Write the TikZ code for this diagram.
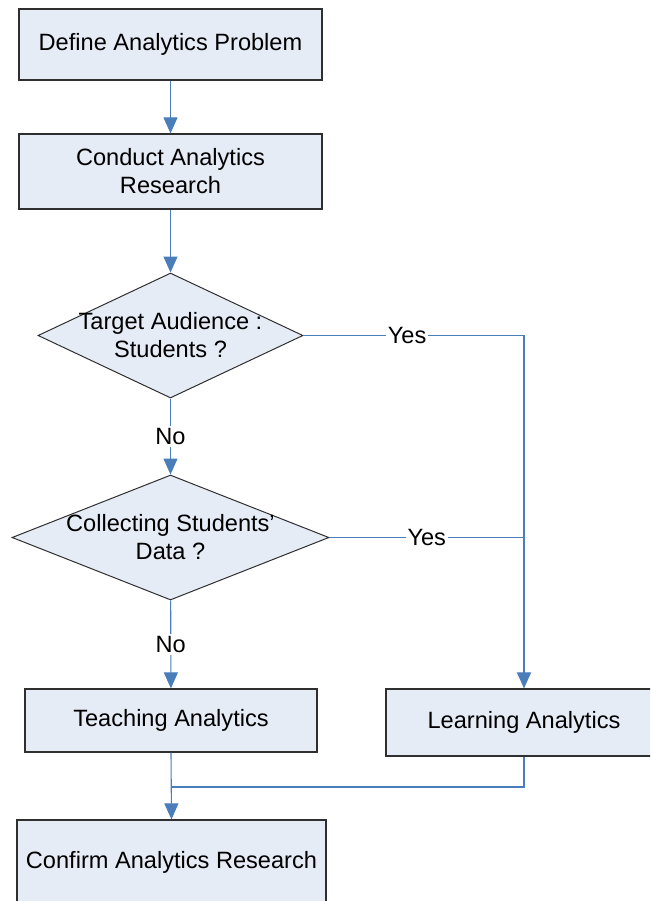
\documentclass[tikz,border=0pt]{standalone}
\usepackage{fontspec}
\setmainfont{Liberation Sans}
\definecolor{boxfill}{HTML}{E6ECF6}
\definecolor{boxline}{HTML}{2F2F2F}
\definecolor{flowblue}{HTML}{4A7EBB}
\usetikzlibrary{arrows.meta,shapes.geometric}
\tikzset{
  stage/.style  = {draw=boxline,fill=boxfill,line width=0.6pt,align=center,
                   inner sep=0pt},
  decide/.style = {diamond,draw=boxline,fill=boxfill,line width=0.5pt,
                   inner sep=0pt},
  qtext/.style  = {align=center,inner sep=0pt},
  link/.style   = {draw=flowblue,line width=0.55pt},
  arr/.style    = {link,-{Triangle[length=8pt,width=7pt]}},
  ans/.style    = {fill=white,inner sep=1pt},
}

\begin{document}
\begin{tikzpicture}[x=0.5pt,y=-0.5pt,font=\fontsize{11.8}{14}\selectfont]
  \useasboundingbox (0,0) rectangle (650,901);
  \clip (0,0) rectangle (650,901);
  % main column
  \node[stage,minimum width=151.5pt,minimum height=35.5pt] (define) at (170.5,44.5)
    {Define Analytics Problem};
  \node[stage,minimum width=151.5pt,minimum height=37.5pt] (conduct) at (170.5,171.5)
    {Conduct Analytics\\Research};
  \node[decide,minimum width=132.5pt,minimum height=62.5pt] (aud) at (170.5,335.5) {};
  \node[qtext] (audtxt) at (aud.center) {Target Audience :\\Students ?};
  \node[decide,minimum width=158.5pt,minimum height=62.5pt] (coll) at (170.5,537.5) {};
  \node[qtext] (colltxt) at (coll.center) {Collecting Students'\\Data ?};
  \node[stage,minimum width=146pt,minimum height=31.5pt] (teach) at (171,720.5)
    {Teaching Analytics};
  \node[stage,minimum width=138pt,minimum height=33.5pt] (learn) at (524,722.5)
    {Learning Analytics};
  \node[stage,minimum width=154.5pt,minimum height=42.5pt] (confirm) at (171.5,862.5)
    {Confirm Analytics Research};
  \coordinate (yesjoin) at (coll.east -| learn.north);
  \coordinate (merge) at (171,787);

  \draw[arr] (define) -- (conduct);
  \draw[arr] (conduct) -- (aud);
  \draw[arr] (aud) -- node[ans] (no1) {No} (coll);
  \draw[arr] (coll) -- node[ans] (no2) {No} (teach);
  % yes branches go to the right
  \draw[arr] (aud.east) -| node[ans,pos=0.235] (yes1) {Yes} (learn.north);
  \draw[link] (coll.east) -- node[ans,pos=0.5] (yes2) {Yes} (yesjoin);
  % both outcomes lead to confirm
  \draw[link] (learn.south) |- (merge);
  \draw[arr] (teach.south) -- (confirm.north);
\end{tikzpicture}
\end{document}
